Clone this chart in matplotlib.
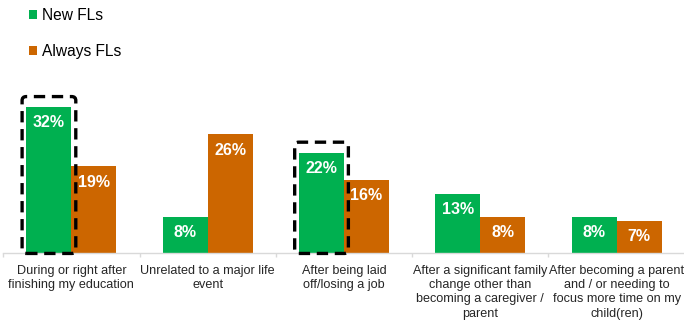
import matplotlib
matplotlib.use("Agg")
import matplotlib.pyplot as plt
from matplotlib.patches import FancyBboxPatch
import numpy as np

plt.rcParams['font.family'] = ['Liberation Sans', 'DejaVu Sans']

categories = [
    "During or right after\nfinishing my education",
    "Unrelated to a major life\nevent",
    "After being laid\noff/losing a job",
    "After a significant family\nchange other than\nbecoming a caregiver /\nparent",
    "After becoming a parent\nand / or needing to\nfocus more time on my\nchild(ren)",
]
series_names = ["New FLs", "Always FLs"]
new_fls = [32, 8, 22, 13, 8]
always_fls = [19, 26, 16, 8, 7]
highlighted = [0, 2]  # categories whose New FLs bar gets a dashed outline

GREEN = "#00B050"
ORANGE = "#CC6600"

fig = plt.figure(figsize=(6.84, 3.22), dpi=100)
ax = fig.add_axes([0.0048, 0.2143, 0.9963, 0.5665])

x = np.arange(len(categories))
w = 0.33
b1 = ax.bar(x - w / 2, new_fls, w, color=GREEN, label=series_names[0])
b2 = ax.bar(x + w / 2, always_fls, w, color=ORANGE, label=series_names[1])

for bars, vals in ((b1, new_fls), (b2, always_fls)):
    for rect, v in zip(bars, vals):
        ax.annotate(f"{v}%", xy=(rect.get_x() + rect.get_width() / 2, v),
                    xytext=(0, -11.3), textcoords="offset points",
                    ha="center", va="center", color="white",
                    fontsize=11.5, fontweight="bold")

# dashed rounded outlines around the highlighted bars
for i in highlighted:
    pad_x = 0.032
    x0 = i - w - pad_x
    y0 = -0.1
    width = w + 2 * pad_x
    height = new_fls[i] + 2.3 - y0
    box = FancyBboxPatch((x0, y0), width, height,
                         boxstyle="round,pad=0,rounding_size=0.03",
                         mutation_aspect=29, fill=False, edgecolor="black",
                         linewidth=2.4, linestyle=(0, (3.4, 2.0)),
                         clip_on=False, zorder=5)
    ax.add_patch(box)

ax.set_xlim(-0.5, len(categories) - 0.5)
ax.set_ylim(0, 40)

for s in ("top", "right", "left"):
    ax.spines[s].set_visible(False)
ax.spines["bottom"].set_color("#D9D9D9")
ax.spines["bottom"].set_linewidth(1.0)
ax.set_yticks([])

ax.set_xticks(x)
ax.set_xticklabels(categories, fontsize=9.1, color="#262626", linespacing=1.25)
ax.tick_params(axis="x", which="major", length=0, pad=8.5)
ax.set_xticks(np.arange(-0.5, len(categories) + 0.5, 1), minor=True)
ax.tick_params(axis="x", which="minor", length=3, color="#D9D9D9", width=1.0)

fig.legend(handles=[b1, b2], labels=series_names, loc="upper left",
           bbox_to_anchor=(0.042, 0.975), frameon=False, fontsize=11.2,
           handlelength=0.5, handleheight=0.5, handletextpad=0.35,
           labelspacing=1.35, borderaxespad=0, borderpad=0)

fig.savefig("out.png", dpi=100)
